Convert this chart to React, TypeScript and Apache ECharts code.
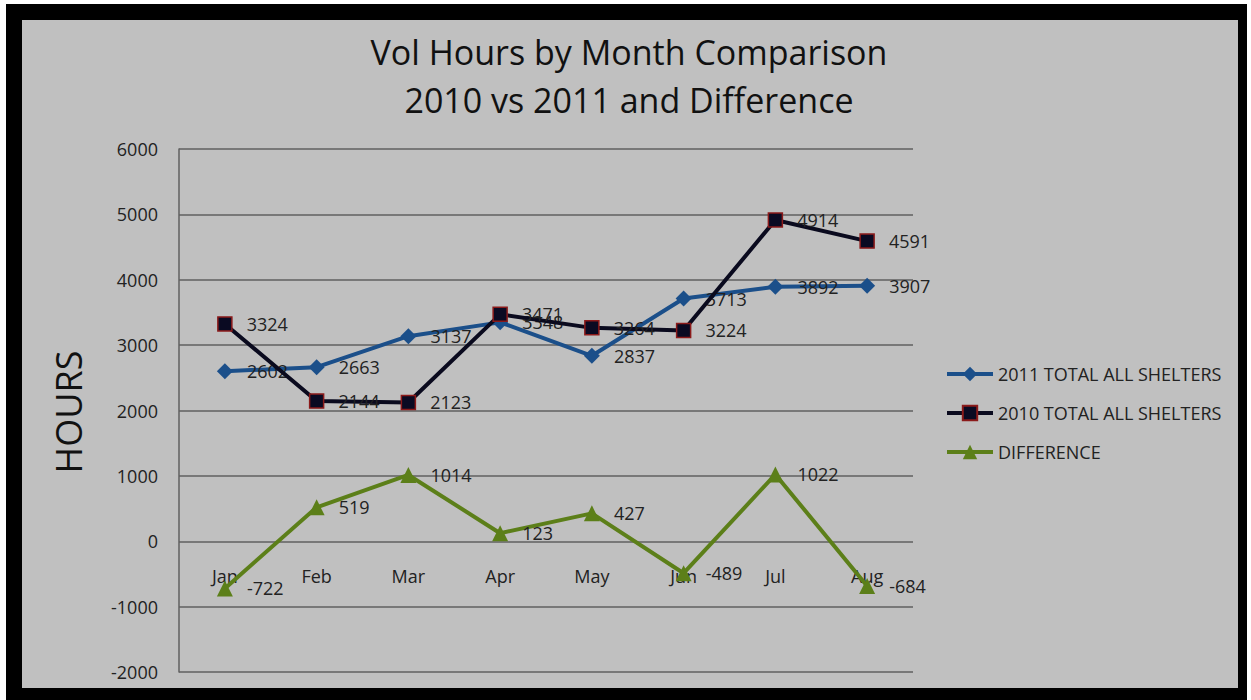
import React, { useEffect, useRef } from "react";
import * as echarts from "echarts";

const months = ["Jan", "Feb", "Mar", "Apr", "May", "Jun", "Jul", "Aug"];
const total2011 = [2602, 2663, 3137, 3348, 2837, 3713, 3892, 3907];
const total2010 = [3324, 2144, 2123, 3471, 3264, 3224, 4914, 4591];
const difference = [-722, 519, 1014, 123, 427, -489, 1022, -684];
const seriesNames = ["2011 TOTAL ALL SHELTERS", "2010 TOTAL ALL SHELTERS", "DIFFERENCE"];

const FONT = "'Open Sans', sans-serif";

export default function App() {
  const ref = useRef<HTMLDivElement>(null);
  useEffect(() => {
    document.body.style.margin = "0";
    const chart = echarts.init(ref.current!, null, { renderer: "svg" });
    const label = {
      show: true,
      position: "right" as const,
      distance: 14,
      fontSize: 18,
      color: "#222",
      fontFamily: FONT,
    };
    chart.setOption({
      animation: false,
      textStyle: { fontFamily: FONT },
      graphic: [
        {
          type: "text",
          x: 629,
          y: 28,
          style: {
            text: "Vol Hours by Month Comparison\n2010 vs 2011 and Difference",
            textAlign: "center",
            fontSize: 34,
            lineHeight: 48,
            fill: "#111",
            fontFamily: FONT,
          },
        },
        {
          type: "text",
          x: 68,
          y: 412,
          rotation: Math.PI / 2,
          style: {
            text: "HOURS",
            textAlign: "center",
            textVerticalAlign: "middle",
            fontSize: 36,
            fill: "#111",
            fontFamily: FONT,
          },
        },
      ],
      grid: { left: 179, right: 338, top: 149, bottom: 28, containLabel: false, outerBoundsMode: "none" },
      legend: {
        orient: "vertical",
        left: 945,
        top: 365,
        padding: 0,
        itemWidth: 46,
        itemHeight: 18,
        itemGap: 21,
        lineStyle: { width: 4 },
        textStyle: { fontSize: 18, color: "#222", fontFamily: FONT },
        data: seriesNames,
      },
      xAxis: {
        type: "category",
        data: months,
        boundaryGap: true,
        position: "bottom",
        offset: -131,
        axisLine: { show: false, onZero: false },
        axisTick: { show: false },
        axisLabel: { fontSize: 18, color: "#222", margin: 26, fontFamily: FONT },
      },
      yAxis: {
        type: "value",
        min: -2000,
        max: 6000,
        interval: 1000,
        axisLine: { show: true, lineStyle: { color: "#606060", width: 1.5 } },
        axisTick: { show: false },
        axisLabel: {
          fontSize: 18,
          color: "#222",
          margin: 21,
          fontFamily: FONT,
          formatter: (v: number) => String(v),
        },
        splitLine: { show: true, lineStyle: { color: "#606060", width: 1.5 } },
      },
      series: [
        {
          name: seriesNames[0],
          type: "line",
          data: total2011,
          symbol: "diamond",
          symbolSize: 16,
          lineStyle: { color: "#1b4f8a", width: 4 },
          itemStyle: { color: "#1b4f8a" },
          label,
          z: 3,
        },
        {
          name: seriesNames[1],
          type: "line",
          data: total2010,
          symbol: "rect",
          symbolSize: 14,
          lineStyle: { color: "#0a0a1e", width: 4 },
          itemStyle: { color: "#0a0a22", borderColor: "#8b1a1a", borderWidth: 1.5 },
          label,
          z: 4,
        },
        {
          name: seriesNames[2],
          type: "line",
          data: difference,
          symbol: "triangle",
          symbolSize: 16,
          lineStyle: { color: "#5c7f19", width: 4 },
          itemStyle: { color: "#5c7f19" },
          label,
          z: 3,
        },
      ],
    });
    return () => chart.dispose();
  }, []);
  return (
    <div style={{ position: "relative", width: 1251, height: 700, background: "#fff", overflow: "hidden" }}>
      <div style={{ position: "absolute", left: 6, top: 4, width: 1241, height: 696, background: "#000" }} />
      <div style={{ position: "absolute", left: 22, top: 20, width: 1216, height: 668, background: "#c0c0c0" }} />
      <div ref={ref} style={{ position: "absolute", left: 0, top: 0, width: 1251, height: 700 }} />
    </div>
  );
}
